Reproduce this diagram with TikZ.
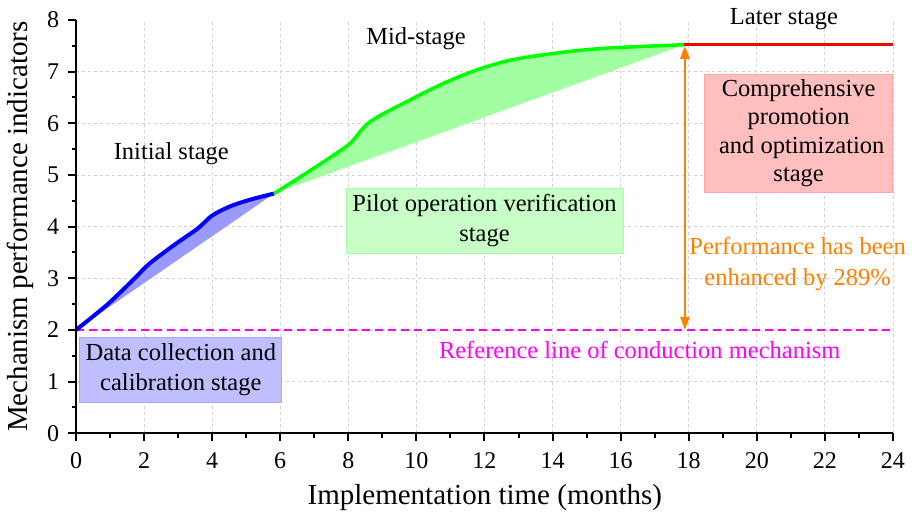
\documentclass[tikz,border=0pt]{standalone}
\usepackage{fontspec}
\setmainfont{Liberation Serif}
\usepackage{tikz}
\usetikzlibrary{positioning, arrows.meta}
\usepackage{xcolor}
\definecolor{stageBlue}{HTML}{0000FF}
\definecolor{stageGreen}{HTML}{00FF00}
\definecolor{stageRed}{HTML}{FF0000}
\definecolor{refMagenta}{HTML}{FF00FF}
\definecolor{gainOrange}{HTML}{FF8000}
\definecolor{gridGray}{HTML}{D2D2D2}

\begin{document}
\begin{tikzpicture}[x=34.04pt, y=51.67pt,
    ticklab/.style={font=\fontsize{24}{28}\selectfont, inner sep=0pt},
    stagelab/.style={font=\fontsize{24.5}{30}\selectfont, inner sep=0pt},
    stagebox/.style={font=\fontsize{24.5}{30}\selectfont, align=center, inner sep=0pt,
      draw=#1!35, fill=#1!25, line width=0.8pt},
    >={Triangle[length=13pt, width=9pt]}]
        \useasboundingbox (-2.233,-1.542) rectangle (24.56,8.386);
        % Rejilla
        \foreach \x in {2,4,...,24}
          \draw[gridGray, line width=0.8pt, dash pattern=on 3pt off 3pt] (\x,0) -- (\x,8);
        \foreach \y in {1,...,7}
          \draw[gridGray, line width=0.8pt, dash pattern=on 3pt off 3pt] (0,\y) -- (24,\y);
        % Cajas de etapa
        \node[stagebox=stageBlue, minimum width=202pt, minimum height=65pt] (dataBox) at (3.08,1.235)
          {Data collection and\\calibration stage};
        \node[stagebox=stageGreen, fill=stageGreen!22, minimum width=277pt, minimum height=65pt] (pilotBox) at (12.0,4.12)
          {Pilot operation verification\\stage};
        \node[stagebox=stageRed, minimum width=188pt, minimum height=118pt,
          font=\fontsize{24.5}{28.5}\selectfont] (promoBox) at (21.23,5.81)
          {Comprehensive\\promotion\\\ and optimization\\stage};
        % Linea de referencia
        \coordinate (refStart) at (0,2);
        \coordinate (refEnd) at (24,2);
        \draw[refMagenta, line width=2pt, dash pattern=on 8pt off 5pt] (refStart) -- (refEnd);
        \node[stagelab, anchor=base, text=refMagenta] (refLab) at (16.56,1.45)
          {Reference line of conduction mechanism};
        % Etapa inicial
        \fill[stageBlue!40] plot[smooth] coordinates {(0,2) (0.9,2.48) (1.68,2.97) (2.17,3.29)
          (2.96,3.68) (3.59,3.97) (3.99,4.21) (4.52,4.39) (5.11,4.52) (5.82,4.64)} -- cycle;
        \draw[stageBlue, line width=4pt] plot[smooth] coordinates {(0,2) (0.9,2.48) (1.68,2.97) (2.17,3.29)
          (2.96,3.68) (3.59,3.97) (3.99,4.21) (4.52,4.39) (5.11,4.52) (5.82,4.64)};
        % Etapa media
        \fill[stageGreen!37] plot[smooth] coordinates {(5.82,4.64) (6.68,5.0) (7.36,5.29) (8.05,5.61)
          (8.64,6.03) (9.81,6.45) (10.79,6.77) (11.77,7.03) (12.75,7.22) (14.02,7.35)
          (15.49,7.45) (17.87,7.52)} -- cycle;
        \draw[stageGreen, line width=3.5pt] plot[smooth] coordinates {(5.82,4.64) (6.68,5.0) (7.36,5.29) (8.05,5.61)
          (8.64,6.03) (9.81,6.45) (10.79,6.77) (11.77,7.03) (12.75,7.22) (14.02,7.35)
          (15.49,7.45) (17.87,7.52)};
        % Etapa final
        \coordinate (laterStart) at (17.87,7.52);
        \coordinate (laterEnd) at (24,7.52);
        \draw[stageRed, line width=3.5pt] (laterStart) -- (laterEnd);
        % Mejora
        \coordinate (gainTop) at (17.89,7.5);
        \coordinate (gainBase) at (17.89,2);
        \draw[gainOrange, line width=2.5pt, <->] (gainTop) -- (gainBase);
        \node[stagelab, align=center, text=gainOrange, font=\fontsize{24.5}{31}\selectfont] (gainLab) at (21.2,3.28)
          {Performance has been\\enhanced by 289\%};
        % Etiquetas de etapa
        \node[stagelab, anchor=base] (initLab) at (2.80,5.30) {Initial stage};
        \node[stagelab, anchor=base] (midLab) at (9.99,7.515) {Mid-stage};
        \node[stagelab, anchor=base] (laterLab) at (20.80,7.92) {Later stage};
        % Ejes
        \draw[line width=2pt] (0,8) -- (0,0) -- (24,0);
        \foreach \x in {0,2,...,24} {
          \draw[line width=2pt] (\x,0) -- ++(0,-8pt);
          \node[ticklab, anchor=base] at (\x,-0.69) {\x};
        }
        \foreach \x in {1,3,...,23}
          \draw[line width=2pt] (\x,0) -- ++(0,-4.5pt);
        \foreach \y in {0,...,8} {
          \draw[line width=2pt] (0,\y) -- ++(-8pt,0);
          \node[ticklab, anchor=east] at (-0.49,\y) {\y};
        }
        \foreach \y in {0.5,1.5,...,7.5}
          \draw[line width=2pt] (0,\y) -- ++(-4.5pt,0);
        \node[rotate=90, inner sep=0pt, font=\fontsize{29}{34}\selectfont] (yLab) at (-1.62,4.0)
          {Mechanism performance indicators};
        \node[inner sep=0pt, anchor=base, font=\fontsize{29}{34}\selectfont] (xLab) at (12.01,-1.388)
          {Implementation time (months)};
      \end{tikzpicture}
\end{document}
